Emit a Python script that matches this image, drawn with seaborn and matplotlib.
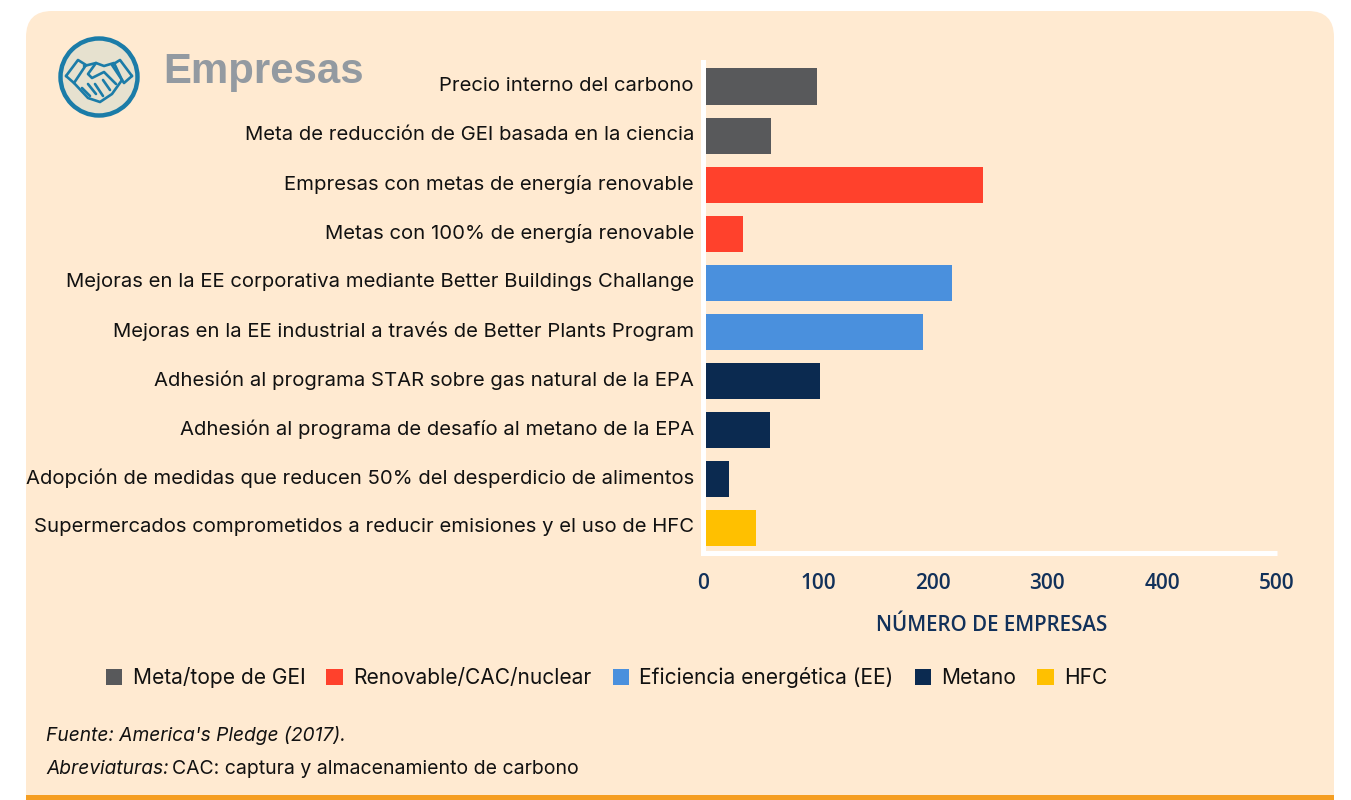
import matplotlib
matplotlib.use("Agg")
import matplotlib.pyplot as plt
import pandas as pd
import seaborn as sns
from matplotlib.patches import Circle, FancyBboxPatch, Rectangle
from matplotlib.transforms import ScaledTranslation

W, H = 1351, 800

categorias = [
    "Precio interno del carbono",
    "Meta de reducción de GEI basada en la ciencia",
    "Empresas con metas de energía renovable",
    "Metas con 100% de energía renovable",
    "Mejoras en la EE corporativa mediante Better Buildings Challange",
    "Mejoras en la EE industrial a través de Better Plants Program",
    "Adhesión al programa STAR sobre gas natural de la EPA",
    "Adhesión al programa de desafío al metano de la EPA",
    "Adopción de medidas que reducen 50% del desperdicio de alimentos",
    "Supermercados comprometidos a reducir emisiones y el uso de HFC",
]
valores = [99, 59, 244, 35, 217, 192, 102, 58, 23, 46]
grupos = [
    "Meta/tope de GEI", "Meta/tope de GEI",
    "Renovable/CAC/nuclear", "Renovable/CAC/nuclear",
    "Eficiencia energética (EE)", "Eficiencia energética (EE)",
    "Metano", "Metano", "Metano",
    "HFC",
]
colores = {
    "Meta/tope de GEI": "#58595B",
    "Renovable/CAC/nuclear": "#FF412C",
    "Eficiencia energética (EE)": "#4A90DD",
    "Metano": "#0B2A50",
    "HFC": "#FFC000",
}
ticks_x = [0, 100, 200, 300, 400, 500]

FONDO = "#FFEAD1"
NAVY = "#12315A"

sns.set_theme(style="white")
plt.rcParams["font.family"] = ["Inter", "DejaVu Sans"]

df = pd.DataFrame({"categoria": categorias, "valor": valores, "grupo": grupos})

fig = plt.figure(figsize=(W / 100, H / 100), dpi=100, facecolor="white")

# fondo redondeado y banda inferior
bg = fig.add_axes([0, 0, 1, 1], zorder=0)
bg.set_xlim(0, W); bg.set_ylim(H, 0); bg.axis("off")
bg.add_patch(FancyBboxPatch((26 + 26, 11 + 26), 1308 - 52, 840, boxstyle="round,pad=26,rounding_size=26",
                            fc=FONDO, ec="none"))
bg.add_patch(Rectangle((26, 795), 1308, 5, fc="#F59E22", ec="none"))

# icono
bg.add_patch(Circle((99, 77), 38.5, fc="#E6E1CF", ec="#1B7CA8", lw=3.2))
ic = "#1B7CA8"
for xs, ys in [
    ([66, 78, 86, 74, 66], [76, 60, 65, 83, 76]),
    ([132, 120, 112, 124, 132], [76, 60, 65, 83, 76]),
    ([84, 96, 104, 114, 122], [66, 63, 66, 63, 80]),
    ([74, 88, 100, 112, 122], [83, 98, 102, 94, 80]),
    ([96, 88, 92, 104, 116], [63, 74, 78, 72, 84]),
    ([82, 90], [88, 96]), ([88, 96], [84, 94]), ([95, 103], [84, 96]), ([103, 110], [80, 90]),
]:
    bg.plot(xs, ys, color=ic, lw=1.9, solid_capstyle="round")
bg.text(163, 72.5, "Empresas", fontsize=30.2, fontweight="bold", color="#939AA1", va="center",
        family=["Liberation Sans", "DejaVu Sans"])

ax = fig.add_axes([703 / W, 1 - 552.5 / H, (1277 - 703) / W, (552.5 - 62) / H], zorder=1)
ax.patch.set_alpha(0)
sns.barplot(data=df, x="valor", y="categoria", hue="grupo", palette=colores, dodge=False,
            width=0.735, saturation=1, linewidth=0, ax=ax, legend=True)
ax.set_xlim(0, 500)
ax.set_ylim(9.5, -0.5)
ax.set_xticks(ticks_x)
ax.set_ylabel("")
ax.set_xlabel("NÚMERO DE EMPRESAS", fontsize=14.8, fontweight="semibold", color=NAVY,
              family=["Open Sans", "DejaVu Sans"])
ax.xaxis.set_label_coords(0.503, -0.128)
ax.tick_params(axis="x", length=0, pad=15, labelsize=15, labelcolor=NAVY)
ax.tick_params(axis="y", length=0, pad=6.5, labelsize=14.6, labelcolor="#111111")
for t in ax.get_xticklabels():
    t.set_fontfamily(["Open Sans", "DejaVu Sans"])
    t.set_fontweight("semibold")
# las etiquetas van unos 2 px por encima del centro de la barra
subir = ScaledTranslation(0, 2.5 / 100, fig.dpi_scale_trans)
for t in ax.get_yticklabels():
    t.set_transform(t.get_transform() + subir)
sns.despine(ax=ax)
for s in ["left", "bottom"]:
    ax.spines[s].set_color("white")
    ax.spines[s].set_linewidth(3.6)
    ax.spines[s].set_zorder(3)
ax.spines["bottom"].set_capstyle("butt")

handles, labels = ax.get_legend_handles_labels()
ax.get_legend().remove()
fig.legend(handles, labels, loc="center left", bbox_to_anchor=(87 / W, 1 - 678 / H), ncol=5, frameon=False,
           fontsize=15.1, handlelength=0.78, handleheight=0.78, handletextpad=0.5, columnspacing=1.0,
           labelcolor="#111111")

bg.text(46, 735.5, "Fuente: America's Pledge (2017).", fontsize=13.8, style="italic", color="#111111", va="center")
bg.text(46, 768.5, "Abreviaturas:", fontsize=13.8, style="italic", color="#111111", va="center")
bg.text(172, 768.5, "CAC: captura y almacenamiento de carbono", fontsize=14, color="#111111", va="center")

fig.savefig("out.png", dpi=100, facecolor="white")
